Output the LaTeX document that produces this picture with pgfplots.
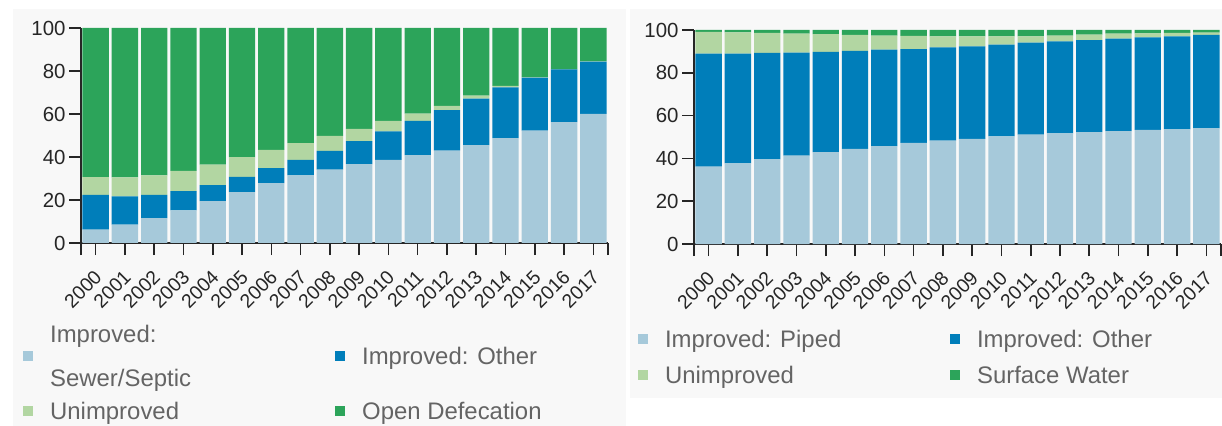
\documentclass[border=0pt]{standalone}
\usepackage{pgfplots}
\pgfplotsset{compat=1.18}
\usepackage{pgfplotstable}
\usepackage{fontspec}
\setmainfont{Liberation Sans}

\definecolor{cLB}{RGB}{166,201,218}
\definecolor{cB}{RGB}{0,126,186}
\definecolor{cLG}{RGB}{178,214,162}
\definecolor{cG}{RGB}{44,164,90}
\definecolor{txt}{RGB}{100,100,100}
\definecolor{panel}{RGB}{248,248,248}

% Sanitation: sewer/septic, other improved, unimproved, open defecation
\pgfplotstableread{
x a b c d
0 6.2 16.2 8.2 69.4
1 8.5 13.2 8.8 69.5
2 11.6 10.8 9.0 68.6
3 15.2 8.9 9.5 66.4
4 19.5 7.4 9.5 63.6
5 23.7 7.0 9.2 60.1
6 27.9 6.9 8.5 56.7
7 31.4 7.3 7.7 53.6
8 34.1 8.8 6.9 50.2
9 36.7 10.7 5.7 46.9
10 38.7 13.2 4.9 43.2
11 40.9 15.9 3.4 39.8
12 43.0 18.8 2.0 36.2
13 45.5 21.7 1.4 31.4
14 48.8 23.6 0.7 26.9
15 52.3 24.6 0.2 22.9
16 56.2 24.5 0.1 19.2
17 60.1 24.3 0.1 15.5
}\sanit

% Water: piped, other improved, unimproved, surface water
\pgfplotstableread{
x a b c d
0 36.2 52.8 10.1 0.9
1 37.7 51.3 9.9 1.1
2 39.6 49.7 9.3 1.4
3 41.3 48.1 8.9 1.7
4 42.9 46.9 8.3 1.9
5 44.4 45.8 7.5 2.3
6 45.7 45.1 6.6 2.6
7 47.2 43.9 6.1 2.8
8 48.3 43.6 5.1 3.0
9 49.1 43.3 4.6 3.0
10 50.3 42.9 3.8 3.0
11 51.1 43.0 2.9 3.0
12 51.7 43.0 2.7 2.6
13 52.3 43.0 2.5 2.2
14 52.8 43.2 2.3 1.7
15 53.3 43.3 1.8 1.6
16 53.6 43.4 1.6 1.4
17 54.0 43.7 1.1 1.2
}\water

\pgfplotsset{
  mybars/.style={
    scale only axis,
    ybar stacked,
    bar width=0.9,
    xmin=-0.5, xmax=17.5, ymin=0, ymax=100,
    axis x line*=bottom, axis y line*=left,
    axis line style={line width=1.6bp, black!85},
    xtick={0,...,17},
    xticklabels={2000,2001,2002,2003,2004,2005,2006,2007,2008,2009,2010,2011,2012,2013,2014,2015,2016,2017},
    extra x ticks={-0.5,17.5}, extra x tick labels={},
    extra x tick style={tick style={line width=1.6bp, black!85}},
    ytick={0,20,40,60,80,100},
    tick align=outside,
    tick style={line width=1.6bp, black!85},
    major tick length=12bp,
    /pgf/number format/assume math mode=true,
    yticklabel style={font=\fontsize{20.5}{24}\selectfont, text=black!85},
    xticklabel style={font=\fontsize{19.5}{22}\selectfont, text=black!85, rotate=45, anchor=east, xshift=-8bp, yshift=-15bp},
    legend columns=2,
    legend cell align=left,
    legend style={draw=none, fill=none, font=\fontsize{24}{44}\selectfont, text=txt,
      inner sep=0pt, anchor=north west,
      /tikz/every odd column/.append style={column sep=17bp},
      /tikz/every even column/.append style={column sep=15bp}},
    legend image code/.code={\fill[##1, draw=none] (0bp,-5bp) rectangle (10bp,5bp);},
    every axis plot/.append style={draw=none},
  }
}

\begin{document}
\begin{tikzpicture}
\fill[white] (0bp,0bp) rectangle (1222bp,426bp);
\fill[panel] (13bp,0bp) rectangle (626bp,417bp);
\fill[panel] (630bp,28bp) rectangle (1222bp,417bp);
\path[use as bounding box] (0bp,0bp) rectangle (1222bp,426bp);

\begin{axis}[mybars, at={(81bp,183bp)}, anchor=south west, width=527bp, height=215bp,
  legend style={at={(-0.1101,-0.4256)}, row sep=12bp,
    nodes={inner sep=0pt, text height=30bp, text depth=13bp}}]
\addplot[fill=cLB] table[x=x,y=a]{\sanit};
\addplot[fill=cB] table[x=x,y=b]{\sanit};
\addplot[fill=cLG] table[x=x,y=c]{\sanit};
\addplot[fill=cG] table[x=x,y=d]{\sanit};
\addlegendentry{\smash{\raisebox{22bp}{\parbox[t]{270bp}{Improved:\\Sewer/Septic}}}}
\addlegendentry{\makebox[270bp][l]{Improved: Other}}
\addlegendentry{\makebox[270bp][l]{Unimproved}}
\addlegendentry{\makebox[270bp][l]{Open Defecation}}
\end{axis}

\begin{axis}[mybars, at={(694bp,182bp)}, anchor=south west, width=527bp, height=214bp,
  legend style={at={(-0.1065,-0.382)}, row sep=9bp,
    nodes={inner sep=0pt, text height=22bp, text depth=5bp}}]
\addplot[fill=cLB] table[x=x,y=a]{\water};
\addplot[fill=cB] table[x=x,y=b]{\water};
\addplot[fill=cLG] table[x=x,y=c]{\water};
\addplot[fill=cG] table[x=x,y=d]{\water};
\addlegendentry{\makebox[270bp][l]{Improved: Piped}}
\addlegendentry{\makebox[270bp][l]{Improved: Other}}
\addlegendentry{\makebox[270bp][l]{Unimproved}}
\addlegendentry{\makebox[270bp][l]{Surface Water}}
\end{axis}
\end{tikzpicture}
\end{document}
